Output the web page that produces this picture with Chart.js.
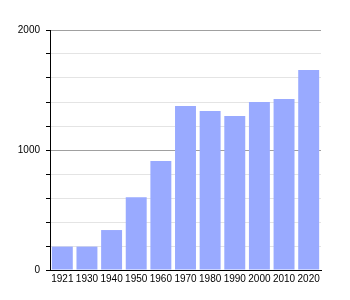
<!DOCTYPE html>
<html>
<head>
<meta charset="utf-8">
<script src="https://cdn.jsdelivr.net/npm/chart.js@4"></script>
<style>
  body { margin: 0; background: #fff; }
  canvas { display: block; }
</style>
</head>
<body>
<canvas id="popChart" width="350" height="300"></canvas>
<script>
// Data
const years = ['1921', '1930', '1940', '1950', '1960', '1970', '1980', '1990', '2000', '2010', '2020'];
const population = [195, 195, 333, 606, 908, 1367, 1325, 1283, 1400, 1425, 1667];
const yTickLabels = [0, 1000, 2000];

const ctx = document.getElementById('popChart').getContext('2d');
const popChart = new Chart(ctx, {
    type: 'bar',
    data: {
        labels: years,
        datasets: [{
            data: population,
            backgroundColor: '#99aaff',
            barPercentage: 0.85,
            categoryPercentage: 1.0,
        }]
    },
    options: {
        responsive: false,
        animation: false,
        layout: {
            padding: { top: 30, right: 29, left: 0, bottom: 0 }
        },
        scales: {
            x: {
                grid: {
                    drawOnChartArea: false,
                    drawTicks: false,
                },
                border: { color: '#000', width: 1 },
                ticks: {
                    color: '#000',
                    padding: 3,
                    maxRotation: 0,
                    autoSkip: false,
                    font: { family: 'Liberation Sans', size: 10 },
                },
                afterFit: function(axis) { axis.height = 30; }
            },
            y: {
                min: 0,
                max: 2000,
                grid: {
                    color: function(c) {
                        return c.tick && c.tick.value % 1000 === 0 ? '#a0a0a0' : '#e4e4e4';
                    },
                    tickColor: '#000',
                    tickLength: 4,
                },
                border: { color: '#000', width: 1 },
                ticks: {
                    stepSize: 200,
                    color: '#000',
                    padding: 6,
                    font: { family: 'Liberation Sans', size: 10 },
                    callback: function(v) {
                        return yTickLabels.includes(v) ? String(v) : '';
                    }
                },
                afterFit: function(axis) { axis.width = 50; }
            }
        },
        plugins: {
            legend: { display: false },
            tooltip: { enabled: false }
        }
    }
});
</script>
</body>
</html>
